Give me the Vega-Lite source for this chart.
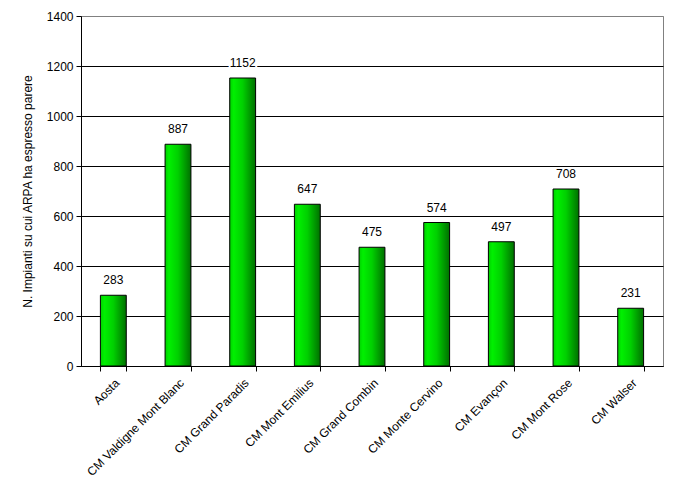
{
  "$schema": "https://vega.github.io/schema/vega-lite/v6.json",
  "width": 582,
  "height": 350,
  "autosize": {"type": "none"},
  "padding": {"left": 81, "top": 16, "right": 18, "bottom": 116},
  "background": "white",
  "config": {
    "font": "Liberation Sans",
    "view": {"stroke": "#808080", "strokeWidth": 1},
    "axis": {"labelFont": "Liberation Sans", "titleFont": "Liberation Sans", "labelColor": "black", "titleColor": "black", "domainColor": "black", "tickColor": "black"}
  },
  "data": {
    "values": [
      {"zona": "Aosta", "n": 283},
      {"zona": "CM Valdigne Mont Blanc", "n": 887},
      {"zona": "CM Grand Paradis", "n": 1152},
      {"zona": "CM Mont Emilius", "n": 647},
      {"zona": "CM Grand Combin", "n": 475},
      {"zona": "CM Monte Cervino", "n": 574},
      {"zona": "CM Evançon", "n": 497},
      {"zona": "CM Mont Rose", "n": 708},
      {"zona": "CM Walser", "n": 231}
    ]
  },
  "encoding": {
    "x": {
      "field": "zona", "type": "nominal", "sort": null,
      "scale": {"paddingInner": 0.6, "paddingOuter": 0.3},
      "axis": {"title": null, "labelAngle": -45, "labelAlign": "right", "labelBaseline": "top", "labelFontSize": 12, "labelPadding": 6, "tickBand": "extent", "tickSize": 5, "domainWidth": 1, "grid": false}
    },
    "y": {
      "field": "n", "type": "quantitative",
      "scale": {"domain": [0, 1400], "nice": false},
      "axis": {
        "title": "N. Impianti su cui ARPA ha espresso parere",
        "titleFontSize": 12, "titleFontWeight": "normal", "titlePadding": 12,
        "values": [0, 200, 400, 600, 800, 1000, 1200, 1400],
        "format": "d",
        "labelFontSize": 12, "labelPadding": 3, "tickSize": 5,
        "grid": true,
        "gridColor": {"condition": {"test": "datum.value == 1400", "value": "#808080"}, "value": "black"},
        "gridOpacity": 1, "gridWidth": 1
      }
    }
  },
  "layer": [
    {
      "mark": {
        "type": "bar",
        "stroke": "black", "strokeWidth": 1,
        "color": {"gradient": "linear", "x1": 0, "x2": 1, "y1": 0, "y2": 0,
          "stops": [{"offset": 0, "color": "#00d000"}, {"offset": 0.15, "color": "#00f000"}, {"offset": 0.5, "color": "#00d000"}, {"offset": 1, "color": "#007000"}]}
      }
    },
    {
      "mark": {"type": "text", "dy": -8, "fontSize": 12, "baseline": "bottom", "stroke": "white", "strokeWidth": 4, "fill": "white"},
      "encoding": {"text": {"field": "n", "type": "quantitative", "format": "d"}}
    },
    {
      "mark": {"type": "text", "dy": -8, "fontSize": 12, "baseline": "bottom", "fill": "black"},
      "encoding": {"text": {"field": "n", "type": "quantitative", "format": "d"}}
    }
  ]
}
